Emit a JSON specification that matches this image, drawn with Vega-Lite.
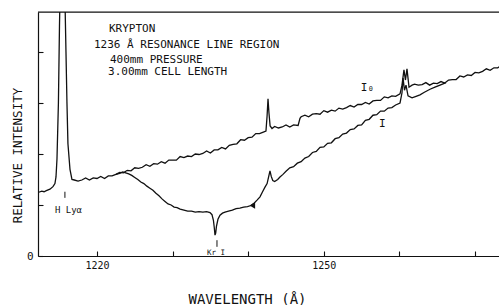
{
  "$schema": "https://vega.github.io/schema/vega-lite/v6.json",
  "width": 461,
  "height": 244,
  "autosize": {"type": "none"},
  "padding": {"left": 38, "top": 12, "right": 0, "bottom": 49},
  "background": "white",
  "config": {
    "view": {"stroke": null},
    "font": "DejaVu Sans Mono",
    "axis": {"grid": false, "domainColor": "#111", "domainWidth": 1.2, "tickColor": "#111", "tickWidth": 1.1, "labelColor": "#111", "titleColor": "#111", "titleFontWeight": "normal", "labelFont": "DejaVu Sans Mono", "titleFont": "DejaVu Sans Mono"}
  },
  "datasets": {
    "trace": [
      {"s":"I0","wl":1212.3,"v":1.25},{"s":"I0","wl":1212.7,"v":1.27},{"s":"I0","wl":1213.0,"v":1.26},{"s":"I0","wl":1213.3,"v":1.28},{"s":"I0","wl":1213.78,"v":1.31},{"s":"I0","wl":1214.18,"v":1.36},{"s":"I0","wl":1214.44,"v":1.42},{"s":"I0","wl":1214.58,"v":1.55},{"s":"I0","wl":1214.71,"v":1.9},{"s":"I0","wl":1214.9,"v":3.0},{"s":"I0","wl":1215.04,"v":4.5},{"s":"I0","wl":1215.1,"v":5.0},{"s":"I0","wl":1215.77,"v":5.0},{"s":"I0","wl":1215.9,"v":4.0},{"s":"I0","wl":1216.03,"v":3.0},{"s":"I0","wl":1216.16,"v":2.2},{"s":"I0","wl":1216.43,"v":1.7},{"s":"I0","wl":1216.69,"v":1.5},
      {"s":"I0","wl":1217.0,"v":1.49},{"s":"I0","wl":1217.5,"v":1.47},{"s":"I0","wl":1218.0,"v":1.49},{"s":"I0","wl":1218.5,"v":1.53},{"s":"I0","wl":1219.0,"v":1.49},{"s":"I0","wl":1219.5,"v":1.53},{"s":"I0","wl":1220.0,"v":1.52},{"s":"I0","wl":1220.5,"v":1.56},{"s":"I0","wl":1221.0,"v":1.52},{"s":"I0","wl":1221.5,"v":1.57},{"s":"I0","wl":1222.0,"v":1.57},{"s":"I0","wl":1222.5,"v":1.6},{"s":"I0","wl":1223.0,"v":1.64},
      {"s":"I0","wl":1223.5,"v":1.63},{"s":"I0","wl":1224.0,"v":1.68},{"s":"I0","wl":1224.5,"v":1.67},{"s":"I0","wl":1225.0,"v":1.73},{"s":"I0","wl":1225.5,"v":1.72},{"s":"I0","wl":1226.0,"v":1.74},{"s":"I0","wl":1226.5,"v":1.79},{"s":"I0","wl":1227.0,"v":1.76},{"s":"I0","wl":1227.5,"v":1.81},{"s":"I0","wl":1228.0,"v":1.8},{"s":"I0","wl":1228.5,"v":1.85},{"s":"I0","wl":1229.0,"v":1.82},{"s":"I0","wl":1229.5,"v":1.88},{"s":"I0","wl":1230.0,"v":1.88},{"s":"I0","wl":1230.5,"v":1.88},{"s":"I0","wl":1231.0,"v":1.95},{"s":"I0","wl":1231.5,"v":1.93},{"s":"I0","wl":1232.0,"v":1.96},{"s":"I0","wl":1232.5,"v":1.95},{"s":"I0","wl":1233.0,"v":2.0},{"s":"I0","wl":1233.5,"v":1.99},{"s":"I0","wl":1234.0,"v":2.01},{"s":"I0","wl":1234.5,"v":2.06},{"s":"I0","wl":1235.0,"v":2.02},{"s":"I0","wl":1235.5,"v":2.08},{"s":"I0","wl":1236.0,"v":2.08},{"s":"I0","wl":1236.5,"v":2.13},{"s":"I0","wl":1237.0,"v":2.1},{"s":"I0","wl":1237.5,"v":2.17},{"s":"I0","wl":1238.0,"v":2.19},{"s":"I0","wl":1238.5,"v":2.2},{"s":"I0","wl":1239.0,"v":2.28},{"s":"I0","wl":1239.5,"v":2.27},{"s":"I0","wl":1240.0,"v":2.32},{"s":"I0","wl":1240.5,"v":2.33},{"s":"I0","wl":1241.0,"v":2.4},{"s":"I0","wl":1241.5,"v":2.4},{"s":"I0","wl":1242.0,"v":2.43},{"s":"I0","wl":1242.35,"v":2.45},
      {"s":"I0","wl":1242.5,"v":2.75},{"s":"I0","wl":1242.62,"v":3.08},{"s":"I0","wl":1242.75,"v":2.8},{"s":"I0","wl":1242.9,"v":2.55},{"s":"I0","wl":1243.15,"v":2.5},{"s":"I0","wl":1243.5,"v":2.54},{"s":"I0","wl":1244.0,"v":2.51},{"s":"I0","wl":1244.5,"v":2.53},{"s":"I0","wl":1245.0,"v":2.57},{"s":"I0","wl":1245.5,"v":2.53},{"s":"I0","wl":1246.0,"v":2.57},{"s":"I0","wl":1246.6,"v":2.56},{"s":"I0","wl":1246.85,"v":2.7},{"s":"I0","wl":1247.0,"v":2.73},
      {"s":"I0","wl":1247.5,"v":2.76},{"s":"I0","wl":1248.0,"v":2.73},{"s":"I0","wl":1248.5,"v":2.78},{"s":"I0","wl":1249.0,"v":2.79},{"s":"I0","wl":1249.5,"v":2.78},{"s":"I0","wl":1250.0,"v":2.85},{"s":"I0","wl":1250.5,"v":2.82},{"s":"I0","wl":1251.0,"v":2.86},{"s":"I0","wl":1251.5,"v":2.84},{"s":"I0","wl":1252.0,"v":2.9},{"s":"I0","wl":1252.5,"v":2.88},{"s":"I0","wl":1253.0,"v":2.91},{"s":"I0","wl":1253.5,"v":2.95},{"s":"I0","wl":1254.0,"v":2.92},{"s":"I0","wl":1254.5,"v":2.97},{"s":"I0","wl":1255.0,"v":2.97},{"s":"I0","wl":1255.5,"v":3.01},{"s":"I0","wl":1256.0,"v":2.98},{"s":"I0","wl":1256.5,"v":3.04},{"s":"I0","wl":1257.0,"v":3.05},{"s":"I0","wl":1257.5,"v":3.05},{"s":"I0","wl":1258.0,"v":3.12},{"s":"I0","wl":1258.5,"v":3.1},{"s":"I0","wl":1259.0,"v":3.14},{"s":"I0","wl":1259.5,"v":3.13},{"s":"I0","wl":1260.08,"v":3.18},
      {"s":"I0","wl":1260.34,"v":3.35},{"s":"I0","wl":1260.6,"v":3.65},{"s":"I0","wl":1260.8,"v":3.45},{"s":"I0","wl":1261.0,"v":3.67},{"s":"I0","wl":1261.27,"v":3.31},{"s":"I0","wl":1261.67,"v":3.35},
      {"s":"I0","wl":1262.0,"v":3.37},{"s":"I0","wl":1262.5,"v":3.35},{"s":"I0","wl":1263.0,"v":3.36},{"s":"I0","wl":1263.5,"v":3.4},{"s":"I0","wl":1264.0,"v":3.35},{"s":"I0","wl":1264.5,"v":3.39},{"s":"I0","wl":1265.0,"v":3.38},{"s":"I0","wl":1265.5,"v":3.42},{"s":"I0","wl":1266.0,"v":3.39},{"s":"I0","wl":1266.5,"v":3.45},{"s":"I0","wl":1267.0,"v":3.46},{"s":"I0","wl":1267.5,"v":3.46},{"s":"I0","wl":1268.0,"v":3.53},{"s":"I0","wl":1268.5,"v":3.51},{"s":"I0","wl":1269.0,"v":3.55},{"s":"I0","wl":1269.5,"v":3.54},{"s":"I0","wl":1270.0,"v":3.6},{"s":"I0","wl":1270.5,"v":3.59},{"s":"I0","wl":1271.0,"v":3.62},{"s":"I0","wl":1271.5,"v":3.67},{"s":"I0","wl":1272.0,"v":3.64},{"s":"I0","wl":1272.5,"v":3.69},{"s":"I0","wl":1273.0,"v":3.69},{"s":"I0","wl":1273.2,"v":3.71},
      {"s":"I","wl":1222.5,"v":1.6},{"s":"I","wl":1223.0,"v":1.62},{"s":"I","wl":1223.4,"v":1.65},{"s":"I","wl":1223.8,"v":1.63},{"s":"I","wl":1224.2,"v":1.61},{"s":"I","wl":1224.6,"v":1.58},{"s":"I","wl":1225.0,"v":1.54},{"s":"I","wl":1225.4,"v":1.5},{"s":"I","wl":1225.8,"v":1.45},{"s":"I","wl":1226.2,"v":1.42},{"s":"I","wl":1226.6,"v":1.37},{"s":"I","wl":1227.0,"v":1.33},{"s":"I","wl":1227.4,"v":1.29},{"s":"I","wl":1227.8,"v":1.23},{"s":"I","wl":1228.2,"v":1.18},{"s":"I","wl":1228.6,"v":1.12},{"s":"I","wl":1229.0,"v":1.07},{"s":"I","wl":1229.4,"v":1.02},{"s":"I","wl":1229.8,"v":1.0},{"s":"I","wl":1230.2,"v":0.96},{"s":"I","wl":1230.6,"v":0.95},{"s":"I","wl":1231.0,"v":0.92},{"s":"I","wl":1231.5,"v":0.9},{"s":"I","wl":1232.0,"v":0.88},{"s":"I","wl":1232.5,"v":0.88},{"s":"I","wl":1233.0,"v":0.86},{"s":"I","wl":1233.5,"v":0.87},{"s":"I","wl":1234.0,"v":0.86},{"s":"I","wl":1234.5,"v":0.87},{"s":"I","wl":1234.95,"v":0.85},
      {"s":"I","wl":1235.21,"v":0.81},{"s":"I","wl":1235.4,"v":0.7},{"s":"I","wl":1235.52,"v":0.55},{"s":"I","wl":1235.61,"v":0.41},{"s":"I","wl":1235.7,"v":0.45},{"s":"I","wl":1235.8,"v":0.58},{"s":"I","wl":1236.0,"v":0.72},{"s":"I","wl":1236.27,"v":0.8},{"s":"I","wl":1236.6,"v":0.84},{"s":"I","wl":1236.93,"v":0.86},{"s":"I","wl":1237.4,"v":0.88},{"s":"I","wl":1237.9,"v":0.9},{"s":"I","wl":1238.4,"v":0.93},{"s":"I","wl":1238.9,"v":0.94},{"s":"I","wl":1239.4,"v":0.96},{"s":"I","wl":1239.9,"v":0.97},{"s":"I","wl":1240.37,"v":0.99},{"s":"I","wl":1240.8,"v":1.04},{"s":"I","wl":1241.2,"v":1.1},{"s":"I","wl":1241.56,"v":1.16},{"s":"I","wl":1241.9,"v":1.26},{"s":"I","wl":1242.22,"v":1.35},{"s":"I","wl":1242.5,"v":1.42},{"s":"I","wl":1242.7,"v":1.55},{"s":"I","wl":1242.88,"v":1.67},{"s":"I","wl":1243.05,"v":1.56},{"s":"I","wl":1243.25,"v":1.48},{"s":"I","wl":1243.5,"v":1.46},{"s":"I","wl":1243.9,"v":1.5},{"s":"I","wl":1244.2,"v":1.55},{"s":"I","wl":1244.6,"v":1.6},{"s":"I","wl":1245.0,"v":1.66},{"s":"I","wl":1245.5,"v":1.73},{"s":"I","wl":1246.0,"v":1.75},{"s":"I","wl":1246.5,"v":1.82},{"s":"I","wl":1247.0,"v":1.85},{"s":"I","wl":1247.5,"v":1.92},{"s":"I","wl":1248.0,"v":1.95},{"s":"I","wl":1248.5,"v":2.03},{"s":"I","wl":1249.0,"v":2.05},{"s":"I","wl":1249.5,"v":2.13},{"s":"I","wl":1250.0,"v":2.14},{"s":"I","wl":1250.5,"v":2.21},{"s":"I","wl":1251.0,"v":2.22},{"s":"I","wl":1251.5,"v":2.3},{"s":"I","wl":1252.0,"v":2.32},{"s":"I","wl":1252.5,"v":2.39},{"s":"I","wl":1253.0,"v":2.41},{"s":"I","wl":1253.5,"v":2.48},{"s":"I","wl":1254.0,"v":2.49},{"s":"I","wl":1254.5,"v":2.56},{"s":"I","wl":1255.0,"v":2.57},{"s":"I","wl":1255.5,"v":2.66},{"s":"I","wl":1256.0,"v":2.68},{"s":"I","wl":1256.5,"v":2.76},{"s":"I","wl":1257.0,"v":2.77},{"s":"I","wl":1257.5,"v":2.84},{"s":"I","wl":1258.0,"v":2.84},{"s":"I","wl":1258.5,"v":2.9},{"s":"I","wl":1259.0,"v":2.91},{"s":"I","wl":1259.5,"v":2.96},{"s":"I","wl":1260.08,"v":3.0},
      {"s":"I","wl":1260.34,"v":3.2},{"s":"I","wl":1260.48,"v":3.49},{"s":"I","wl":1260.67,"v":3.25},{"s":"I","wl":1260.87,"v":3.35},{"s":"I","wl":1261.14,"v":3.14},{"s":"I","wl":1261.67,"v":3.1},{"s":"I","wl":1262.2,"v":3.13},{"s":"I","wl":1262.72,"v":3.16},{"s":"I","wl":1263.3,"v":3.21},{"s":"I","wl":1264.05,"v":3.27},{"s":"I","wl":1264.7,"v":3.31},{"s":"I","wl":1265.37,"v":3.35},{"s":"I","wl":1266.16,"v":3.4}
    ],
    "notes": [
      {"kind":"block","text":"KRYPTON","x":1221.59,"y":4.39},
      {"kind":"block","text":"1236 Å RESONANCE LINE REGION","x":1219.6,"y":4.08},
      {"kind":"block","text":"400mm PRESSURE","x":1221.72,"y":3.78},
      {"kind":"block","text":"3.00mm CELL LENGTH","x":1221.46,"y":3.55},
      {"kind":"curve","text":"I₀","x":1254.9,"y":3.24},
      {"kind":"curve","text":"I","x":1257.3,"y":2.52},
      {"kind":"line","text":"H Lyα","x":1214.44,"y":0.84},
      {"kind":"tiny","text":"Kr I","x":1234.55,"y":0.02}
    ],
    "marks": [
      {"name":"H Lyα","x":1215.76,"y":1.14,"y2":1.26},
      {"name":"Kr I","x":1235.87,"y":0.18,"y2":0.31}
    ],
    "arrow": [
      {"x":1240.55,"y":0.99}
    ],
    "frame": [
      {"top":4.78}
    ]
  },
  "layer": [
    {
      "data": {"name": "trace"},
      "mark": {"type": "line", "color": "#111", "strokeWidth": 1.3, "clip": true},
      "encoding": {
        "x": {"field": "wl", "type": "quantitative",
          "scale": {"domain": [1212.2, 1273.17], "nice": false, "zero": false},
          "axis": {"orient": "bottom", "values": [1220, 1230, 1240, 1250, 1260, 1270], "tickSize": -5, "labelPadding": 9, "labelFontSize": 10, "format": "d",
            "labelExpr": "datum.value == 1220 || datum.value == 1250 ? datum.label : ''",
            "title": "WAVELENGTH  (Å)", "titleFontSize": 14, "titleX": 209, "titleY": 47, "titleBaseline": "alphabetic", "titleAlign": "center"}},
        "y": {"field": "v", "type": "quantitative",
          "scale": {"domain": [0, 4.784], "nice": false},
          "axis": {"orient": "left", "values": [0, 1, 2, 3, 4], "tickSize": -5, "labelPadding": 10, "labelFontSize": 11,
            "labelExpr": "datum.value == 0 ? '0' : ''",
            "title": "RELATIVE INTENSITY", "titleFontSize": 12.5, "titleX": -17, "titleY": 143, "titleBaseline": "alphabetic", "titleAlign": "center", "titleAngle": -90}},
        "detail": {"field": "s"}
      }
    },
    {
      "data": {"name": "frame"},
      "mark": {"type": "rule", "color": "#111", "strokeWidth": 1.2},
      "encoding": {"y": {"field": "top", "type": "quantitative"}}
    },
    {
      "data": {"name": "marks"},
      "mark": {"type": "rule", "color": "#111", "strokeWidth": 1},
      "encoding": {
        "x": {"field": "x", "type": "quantitative"},
        "y": {"field": "y", "type": "quantitative"},
        "y2": {"field": "y2"}
      }
    },
    {
      "data": {"name": "arrow"},
      "mark": {"type": "point", "shape": "triangle-left", "filled": true, "color": "#111", "size": 40, "opacity": 1},
      "encoding": {
        "x": {"field": "x", "type": "quantitative"},
        "y": {"field": "y", "type": "quantitative"}
      }
    },
    {
      "data": {"name": "notes"},
      "transform": [{"filter": "datum.kind == 'block'"}],
      "mark": {"type": "text", "align": "left", "baseline": "alphabetic", "fontSize": 11, "color": "#111"},
      "encoding": {
        "x": {"field": "x", "type": "quantitative"},
        "y": {"field": "y", "type": "quantitative"},
        "text": {"field": "text"}
      }
    },
    {
      "data": {"name": "notes"},
      "transform": [{"filter": "datum.kind == 'curve'"}],
      "mark": {"type": "text", "align": "left", "baseline": "alphabetic", "fontSize": 11, "color": "#111"},
      "encoding": {
        "x": {"field": "x", "type": "quantitative"},
        "y": {"field": "y", "type": "quantitative"},
        "text": {"field": "text"}
      }
    },
    {
      "data": {"name": "notes"},
      "transform": [{"filter": "datum.kind == 'line'"}],
      "mark": {"type": "text", "align": "left", "baseline": "alphabetic", "fontSize": 9, "color": "#111"},
      "encoding": {
        "x": {"field": "x", "type": "quantitative"},
        "y": {"field": "y", "type": "quantitative"},
        "text": {"field": "text"}
      }
    },
    {
      "data": {"name": "notes"},
      "transform": [{"filter": "datum.kind == 'tiny'"}],
      "mark": {"type": "text", "align": "left", "baseline": "alphabetic", "fontSize": 7.5, "color": "#111"},
      "encoding": {
        "x": {"field": "x", "type": "quantitative"},
        "y": {"field": "y", "type": "quantitative"},
        "text": {"field": "text"}
      }
    }
  ]
}
